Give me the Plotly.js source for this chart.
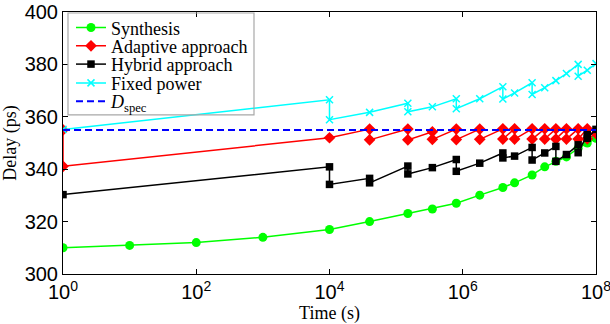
<!DOCTYPE html>
<html>
<head>
<meta charset="utf-8">
<script src="https://cdn.plot.ly/plotly-3.0.1.min.js"></script>
<style>html,body{margin:0;padding:0;background:#fff;}#chart{width:610px;height:324px;}</style>
</head>
<body>
<div id="chart"></div>
<script>
// ---- data ----
const seriesNames = ['Synthesis', 'Adaptive approach', 'Hybrid approach', 'Fixed power', '<i>D</i><sub>spec</sub>'];

const synthTime  = [1, 10, 100, 1000, 1e4, 4e4, 1.5e5, 3.5e5, 8e5, 1.8e6, 4e6, 6e6, 1.1e7, 1.7e7, 2.5e7, 3.6e7, 5.4e7, 7.4e7, 1e8];
const synthDelay = [310, 310.9, 312, 314, 317, 320, 323.1, 324.8, 327, 330.1, 333, 334.8, 337.8, 340.9, 343, 344.7, 348, 350, 351.8];

const adaptTime  = [1, 1, 1e4, 4e4, 4e4, 1.5e5, 1.5e5, 3.5e5, 3.5e5, 8e5, 8e5, 1.8e6, 1.8e6, 4e6, 4e6, 6e6, 6e6, 1.1e7, 1.1e7, 1.7e7, 1.7e7, 2.5e7, 2.5e7, 3.6e7, 3.6e7, 5.4e7, 5.4e7, 7.4e7, 7.4e7, 1e8];
const adaptDelay = [355, 341.1, 352, 355.3, 351.2, 355.3, 351.2, 354.3, 351.4, 355.3, 351.3, 355.3, 351.4, 355.4, 351.5, 355.4, 351.5, 355.4, 351.5, 355.4, 351.5, 355.4, 351.5, 355.4, 351.5, 355.4, 351.5, 355.4, 351.6, 353.6];

const hybridTime  = [1, 1e4, 1e4, 4e4, 4e4, 1.5e5, 1.5e5, 3.5e5, 8e5, 8e5, 1.8e6, 4e6, 4e6, 6e6, 1.1e7, 1.1e7, 1.7e7, 2.5e7, 2.5e7, 3.6e7, 5.4e7, 5.4e7, 7.4e7, 7.4e7, 1e8];
const hybridDelay = [330.3, 340.9, 334.2, 336.5, 334.8, 341.2, 338.2, 340.6, 343.7, 339.2, 342.3, 346.2, 344.3, 345, 348.3, 343.5, 346.2, 348.7, 343, 345.6, 349.3, 346.3, 353.2, 351.8, 355.2];

const fixedTime  = [1, 1e4, 1e4, 4e4, 1.5e5, 1.5e5, 3.5e5, 8e5, 8e5, 1.8e6, 4e6, 4e6, 6e6, 1.1e7, 1.1e7, 1.7e7, 2.5e7, 3.6e7, 5.4e7, 5.4e7, 7.4e7, 1e8];
const fixedDelay = [355.2, 366.5, 358.9, 361.7, 365.2, 361.9, 363.8, 366.9, 363.1, 366.9, 371.5, 366.8, 369.1, 373, 368.5, 371.1, 373.8, 376.5, 380, 375.5, 377.8, 380.3];

const specTime  = [1, 1e8];
const specDelay = [355, 355];

const xTickVals = [1, 100, 1e4, 1e6, 1e8];
const xTickText = ['10<sup>0</sup>', '10<sup>2</sup>', '10<sup>4</sup>', '10<sup>6</sup>', '10<sup>8</sup>'];
const yTickVals = [300, 320, 340, 360, 380, 400];
const yTickText = ['300', '320', '340', '360', '380', '400'];

// ---- styling ----
const serif = 'Liberation Serif, Times New Roman, serif';
const sans = 'Liberation Sans, Arial, sans-serif';

const traces = [
  {x: synthTime, y: synthDelay, name: seriesNames[0], mode: 'lines+markers', legend: 'legend',
   line: {color: '#00ff00', width: 1.5}, marker: {symbol: 'circle', size: 9, color: '#00ff00'}},
  {x: adaptTime, y: adaptDelay, name: seriesNames[1], mode: 'lines+markers', legend: 'legend2',
   line: {color: '#ff0000', width: 1.5}, marker: {symbol: 'diamond', size: 9, color: '#ff0000'}},
  {x: hybridTime, y: hybridDelay, name: seriesNames[2], mode: 'lines+markers', legend: 'legend3',
   line: {color: '#000000', width: 1.5}, marker: {symbol: 'square', size: 7.5, color: '#000000'}},
  {x: fixedTime, y: fixedDelay, name: seriesNames[3], mode: 'lines+markers', legend: 'legend4',
   line: {color: '#00ffff', width: 1.5}, marker: {symbol: 'x-thin-open', size: 7, color: '#00ffff', line: {color: '#00ffff', width: 1.5}}},
  {x: specTime, y: specDelay, name: seriesNames[4], mode: 'lines', legend: 'legend5',
   line: {color: '#0000ff', width: 2, dash: '7px,4px'}}
];

// plot area: x 63..596, y 9..274
const plotH = 265;
function py(p) { return (274 - p) / plotH; }
const legX = 0.015;
function leg(centerPx) {
  return {x: legX, y: py(centerPx), xanchor: 'left', yanchor: 'middle', bgcolor: 'rgba(0,0,0,0)',
          borderwidth: 0, font: {family: serif, size: 18, color: '#000'}, itemwidth: 30};
}

const layout = {
  width: 610, height: 324,
  margin: {l: 63, r: 14, t: 9, b: 50, pad: 0},
  paper_bgcolor: '#fff', plot_bgcolor: '#fff',
  showlegend: true,
  legend: leg(25), legend2: leg(43.5), legend3: leg(62), legend4: leg(81), legend5: leg(99.5),
  xaxis: {
    type: 'log', range: [-0.0002, 8.0002], tickmode: 'array', tickvals: xTickVals, ticktext: xTickText,
    ticks: 'inside', ticklen: 5, tickcolor: '#000', showline: true, linecolor: '#000', linewidth: 1,
    mirror: 'ticks', showgrid: false, zeroline: false, ticklabeloverflow: 'allow',
    tickfont: {family: sans, size: 20, color: '#000'},
    title: {text: 'Time (s)', font: {family: serif, size: 18, color: '#000'}, standoff: 4}
  },
  yaxis: {
    range: [300, 400], tickmode: 'array', tickvals: yTickVals, ticktext: yTickText,
    ticks: 'inside', ticklen: 5, tickcolor: '#000', showline: true, linecolor: '#000', linewidth: 1,
    mirror: 'ticks', showgrid: false, zeroline: false, ticklabeloverflow: 'allow',
    tickfont: {family: sans, size: 20, color: '#000'},
    title: {text: 'Delay (ps)', font: {family: serif, size: 18, color: '#000'}, standoff: 6}
  },
  shapes: [{
    type: 'rect', xref: 'x domain', yref: 'y domain', layer: 'above',
    x0: (68 - 63) / 533, x1: (254 - 63) / 533, y0: py(113), y1: py(10),
    line: {color: '#a8a8a8', width: 1.2}, fillcolor: 'rgba(0,0,0,0)'
  }]
};

Plotly.newPlot('chart', traces, layout, {displayModeBar: false, staticPlot: true});
</script>
</body>
</html>
